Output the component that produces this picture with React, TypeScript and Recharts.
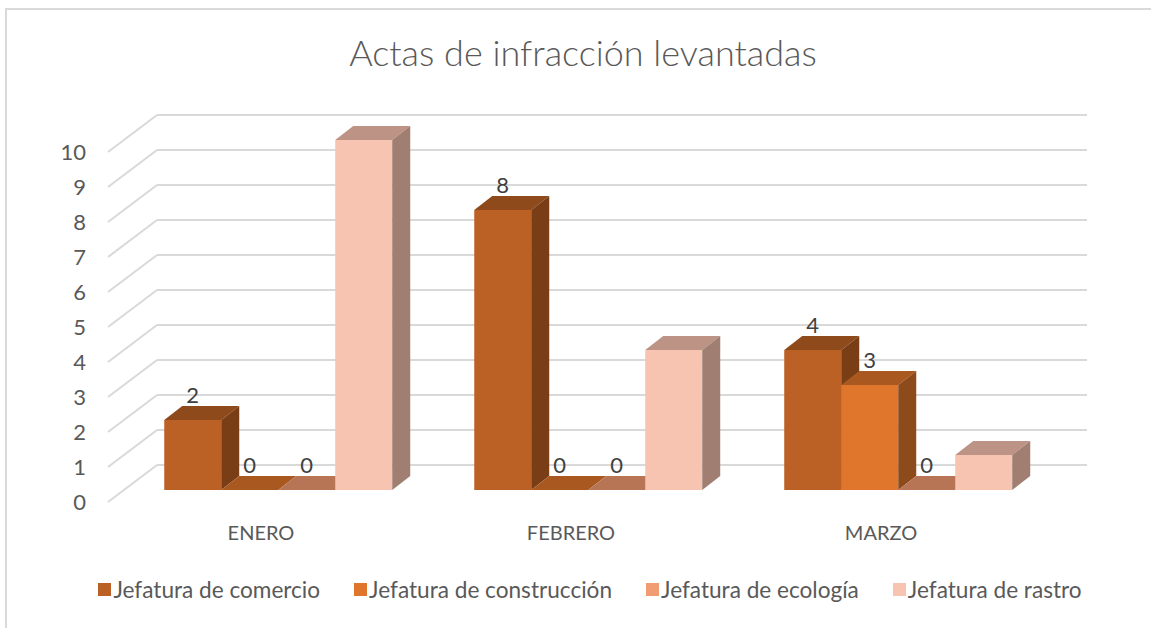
import { Bar, BarChart, CartesianGrid, LabelList, Legend, XAxis, YAxis } from "recharts";

const categories = ["ENERO", "FEBRERO", "MARZO"];
const comercio = [2, 8, 4];
const construccion = [0, 0, 3];
const ecologia = [0, 0, 0];
const rastro = [10, 4, 1];
const yTicks = [0, 1, 2, 3, 4, 5, 6, 7, 8, 9, 10];

const data = categories.map((mes, i) => ({
  mes,
  comercio: comercio[i],
  construccion: construccion[i],
  ecologia: ecologia[i],
  rastro: rastro[i],
}));

const FONT = "Lato, 'Liberation Sans', sans-serif";
const TEXT = "#595959";
// depth of each box and of the back wall
const DX = 18;
const DY = 14;
const WALL_DX = 34;
const WALL_DY = 25;
const FRONT_DX = -15;
const FRONT_DY = 12;
const PLOT_LEFT = 123;
const PLOT_BOTTOM = 490;

const series = [
  { key: "comercio", name: "Jefatura de comercio", front: "#BC6125", top: "#8F4A1C", side: "#7A3E17", label: true },
  { key: "construccion", name: "Jefatura de construcción", front: "#E0762C", top: "#A9591F", side: "#8D4A1A", label: true },
  { key: "ecologia", name: "Jefatura de ecología", front: "#F19C73", top: "#B77556", side: "#9A6249", label: true },
  { key: "rastro", name: "Jefatura de rastro", front: "#F6C4B0", top: "#BC9384", side: "#A07E71", label: false },
];

const Box3D = (props: any) => {
  const { x, y, width, height, colors } = props;
  const h = Math.max(0, height || 0);
  const top = `${x},${y} ${x + width},${y} ${x + width + DX},${y - DY} ${x + DX},${y - DY}`;
  const side = `${x + width},${y} ${x + width},${y + h} ${x + width + DX},${y + h - DY} ${x + width + DX},${y - DY}`;
  return (
    <g>
      {h > 0 && <rect x={x} y={y} width={width} height={h} fill={colors.front} />}
      <polygon points={top} fill={colors.top} />
      {h > 0 && <polygon points={side} fill={colors.side} />}
    </g>
  );
};

const gridLine = (p: any) => {
  const { x1, x2, y1 } = p;
  return (
    <g key={p.key}>
      <line x1={x1 + FRONT_DX} y1={y1 + FRONT_DY} x2={x1 + WALL_DX} y2={y1 - WALL_DY} stroke="#D9D9D9" strokeWidth={2} />
      <line x1={x1 + WALL_DX} y1={y1 - WALL_DY} x2={x2 + WALL_DX} y2={y1 - WALL_DY} stroke="#D9D9D9" strokeWidth={2} />
    </g>
  );
};

const YTick = (p: any) => (
  <text x={PLOT_LEFT + FRONT_DX - 22} y={p.y + FRONT_DY + 8} textAnchor="end" fontSize={22} fontFamily={FONT} fill={TEXT}>
    {p.payload.value}
  </text>
);

const XTick = (p: any) => (
  <text x={p.x - 17} y={PLOT_BOTTOM + 50} textAnchor="middle" fontSize={20} fontFamily={FONT} fill={TEXT}>
    {p.payload.value}
  </text>
);

const ValueLabel = (p: any) => {
  const { x, y, width, value } = p;
  return (
    <text x={x + width / 2} y={y - DY - 3} textAnchor="middle" fontSize={22} fontFamily={FONT} fill="#404040">
      {value}
    </text>
  );
};

const LegendContent = (p: any) => (
  <div style={{ display: "flex", justifyContent: "center", fontFamily: FONT, fontSize: 22.6, color: TEXT }}>
    {(p.payload || []).map((item: any, i: number, arr: any[]) => (
      <div key={item.value} style={{ display: "flex", alignItems: "center", marginRight: i < arr.length - 1 ? 34 : 0 }}>
        <span style={{ width: 13, height: 13, background: item.color, marginRight: 2, display: "inline-block" }} />
        <span>{item.value}</span>
      </div>
    ))}
  </div>
);

export default function App() {
  return (
    <div style={{ position: "absolute", left: 0, top: 0, width: 1151, height: 628, background: "#fff", overflow: "hidden" }}>
      <div
        style={{
          position: "absolute",
          left: 5,
          top: 8,
          width: 1200,
          height: 700,
          borderLeft: "2px solid #D9D9D9",
          borderTop: "2px solid #D9D9D9",
        }}
      />
      <div
        style={{
          position: "absolute",
          left: 0,
          top: 32,
          width: 1166,
          textAlign: "center",
          fontFamily: FONT,
          fontSize: 36,
          fontWeight: 300,
          color: TEXT,
          lineHeight: "40px",
        }}
      >
        Actas de infracción levantadas
      </div>
      <div style={{ position: "absolute", left: 0, top: 0 }}>
        <BarChart
          width={1151}
          height={628}
          data={data}
          margin={{ top: 140, left: PLOT_LEFT - 60, right: 98, bottom: 628 - PLOT_BOTTOM - 40 }}
          barGap={0}
          barCategoryGap="13.3%"
        >
          <CartesianGrid vertical={false} horizontal={gridLine} />
          <XAxis dataKey="mes" height={40} axisLine={false} tickLine={false} tick={<XTick />} interval={0} />
          <YAxis width={60} domain={[0, 10]} ticks={yTicks} axisLine={false} tickLine={false} tick={<YTick />} interval={0} />
          {series.map((s) => (
            <Bar
              key={s.key}
              dataKey={s.key}
              name={s.name}
              fill={s.front}
              isAnimationActive={false}
              shape={(props: any) => <Box3D {...props} colors={s} />}
            >
              {s.label && <LabelList dataKey={s.key} content={<ValueLabel />} />}
            </Bar>
          ))}
          <Legend
            layout="horizontal"
            verticalAlign="middle"
            align="center"
            content={<LegendContent />}
            wrapperStyle={{ top: 576, left: 40, width: 1100 }}
          />
        </BarChart>
      </div>
    </div>
  );
}
